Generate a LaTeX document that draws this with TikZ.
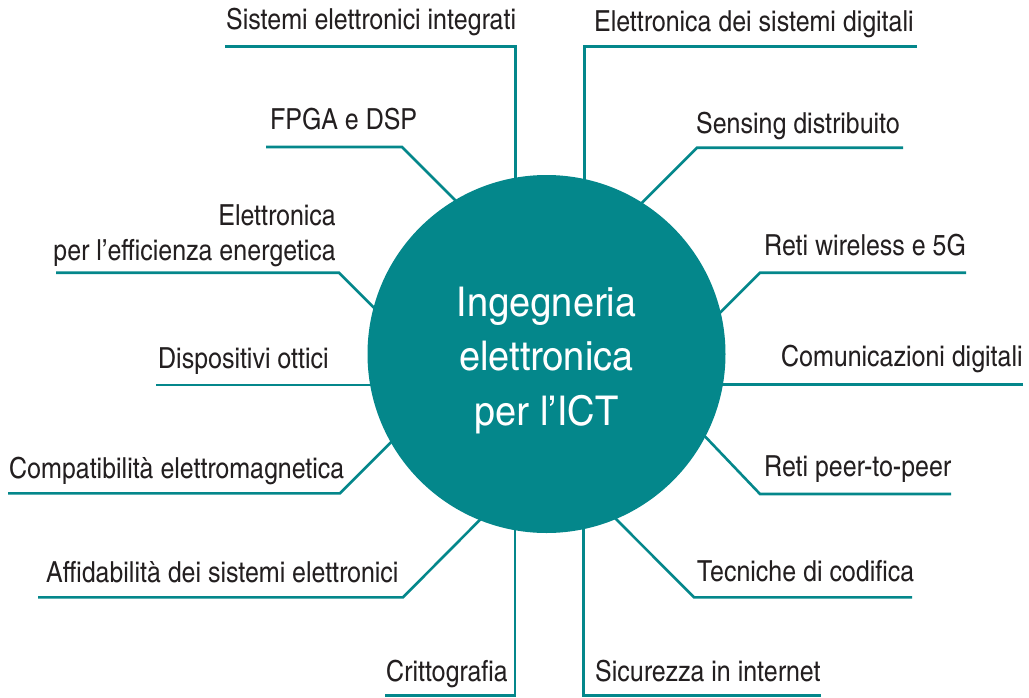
\documentclass[tikz,border=0pt]{standalone}
\usepackage{fontspec}
\setmainfont{texgyreheroscn}[Extension=.otf,UprightFont=*-regular,BoldFont=*-bold]
\newfontfamily\lblfont{texgyreheroscn}[Extension=.otf,UprightFont=*-regular,FakeStretch=1.05]
\newfontfamily\titlefont{texgyreheroscn}[Extension=.otf,UprightFont=*-regular,FakeStretch=1.13]
\definecolor{teal}{RGB}{4,135,139}
\definecolor{ink}{RGB}{35,31,32}
\begin{document}
\begin{tikzpicture}[x=1pt,y=-1pt,
  conn/.style={draw=teal,line width=2.6pt,line join=miter},
  lbl/.style={inner sep=0pt,text=ink,font=\lblfont\fontsize{29}{35}\selectfont},
  hub/.style={circle,fill=teal,inner sep=0pt,minimum size=358pt}]
\useasboundingbox (0,0) rectangle (1029,697);
% labels
\node[lbl,anchor=base west] (l1) at (226,29) {Sistemi elettronici integrati};
\node[lbl,anchor=base west] (l2) at (594,31) {Elettronica dei sistemi digitali};
\node[lbl,anchor=base west] (l3) at (270,129.3) {FPGA e DSP};
\node[lbl,anchor=base west] (l4) at (696,133.3) {Sensing distribuito};
\node[lbl,anchor=base east] (l5a) at (336,225) {Elettronica};
\node[lbl,anchor=base east] (l5) at (336,260) {per l’efficienza energetica};
\node[lbl,anchor=base west] (l6) at (158,368) {Dispositivi ottici};
\node[lbl,anchor=base west] (l7) at (9,478) {Compatibilità elettromagnetica};
\node[lbl,anchor=base west] (l8) at (46,582) {Affidabilità dei sistemi elettronici};
\node[lbl,anchor=base west] (l9) at (386,681.7) {Crittografia};
\node[lbl,anchor=base west] (r1) at (764,255) {Reti wireless e 5G};
\node[lbl,anchor=base west] (r2) at (781,366.7) {Comunicazioni digitali};
\node[lbl,anchor=base west] (r3) at (764,476.7) {Reti peer-to-peer};
\node[lbl,anchor=base west] (r4) at (697,581.7) {Tecniche di codifica};
\node[lbl,anchor=base west] (r5) at (595,681.7) {Sicurezza in internet};
% connector end points (inside the hub)
\coordinate (e1) at (515.7,200);
\coordinate (e2) at (584.3,200);
\coordinate (e3) at (465,210);
\coordinate (e4) at (633,211.7);
\coordinate (e5) at (383,316.7);
\coordinate (e6) at (385,385);
\coordinate (e7) at (400,433.3);
\coordinate (e8) at (488,511.7);
\coordinate (e9) at (515,510);
\coordinate (f1) at (712,320.7);
\coordinate (f2) at (710,384.3);
\coordinate (f3) at (697,428);
\coordinate (f4) at (607,510);
\coordinate (f5) at (583.3,510);
% connectors
\draw[conn] (225,46.7) -- (515.7,46.7) -- (e1);
\draw[conn] (917,46.7) -- (584.3,46.7) -- (e2);
\draw[conn] (266,147) -- (402,147) -- (e3);
\draw[conn] (903,147.7) -- (697,147.7) -- (e4);
\draw[conn] (56,272.7) -- (339,272.7) -- (e5);
\draw[conn] (156,385) -- (e6);
\draw[conn] (8,493.3) -- (340,493.3) -- (e7);
\draw[conn] (38,597.3) -- (403,597.3) -- (e8);
\draw[conn] (385,695.5) -- (515,695.5) -- (e9);
\draw[conn] (966,272.7) -- (760,272.7) -- (f1);
\draw[conn] (1023,384.3) -- (f2);
\draw[conn] (951,494) -- (760,494) -- (f3);
\draw[conn] (912,597.3) -- (694,597.3) -- (f4);
\draw[conn] (821,695.5) -- (583.3,695.5) -- (f5);
% hub
\node[hub] (hub) at (546.5,354) {};
\node[inner sep=0pt,text=white,align=center,anchor=base,
  font=\titlefont\fontsize{41}{54.2}\selectfont] (title) at (546.5,425)
  {Ingegneria\\elettronica\\per l’ICT};
\end{tikzpicture}
\end{document}
